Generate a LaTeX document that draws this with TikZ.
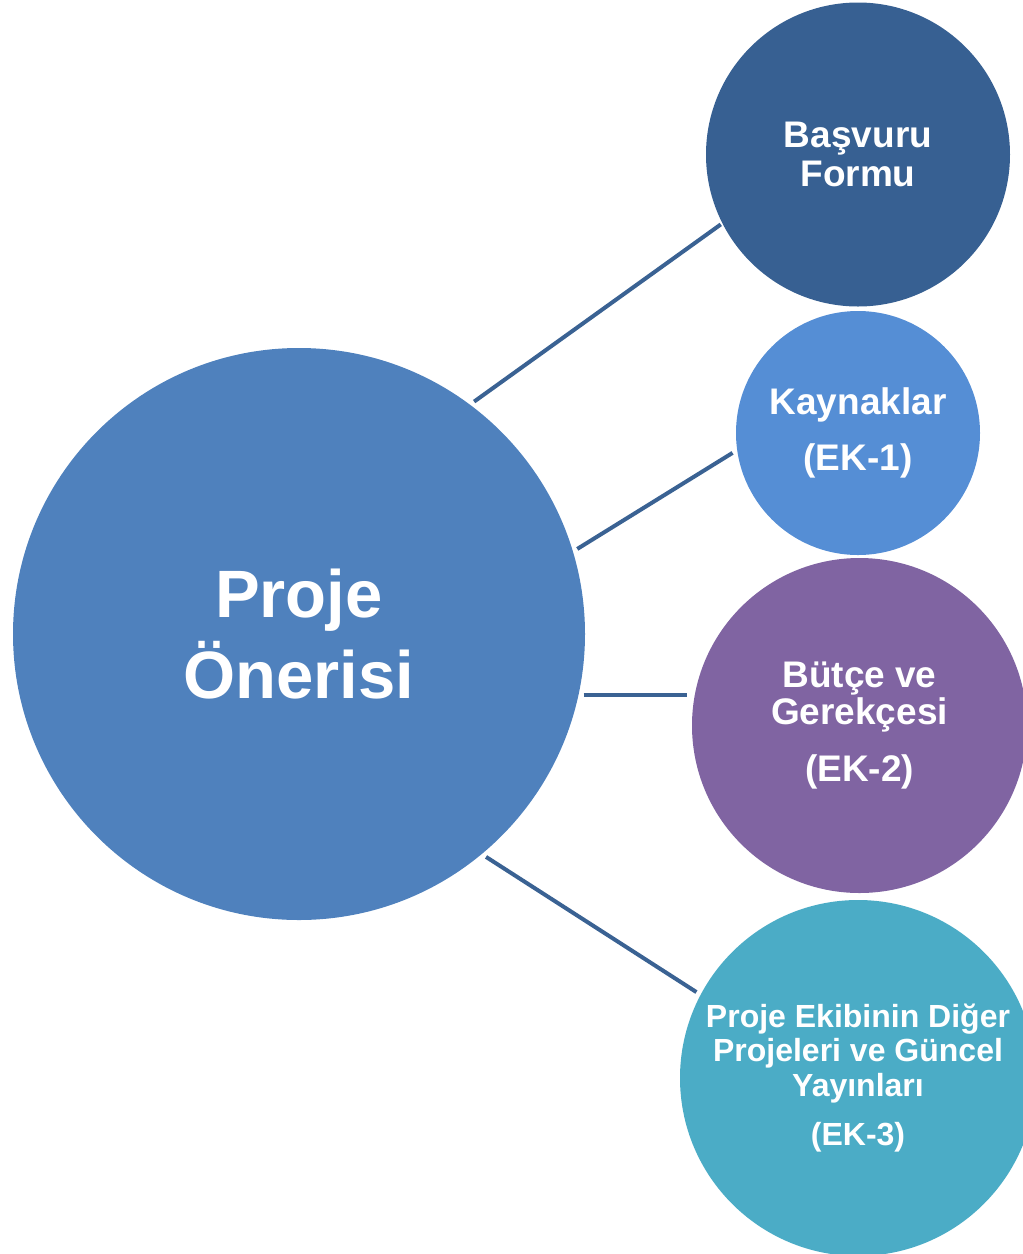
\documentclass[tikz,border=0pt]{standalone}
\usepackage{fontspec}
\setmainfont{Liberation Sans}
\definecolor{cBig}{HTML}{4F81BD}
\definecolor{cOne}{HTML}{376092}
\definecolor{cTwo}{HTML}{558ED5}
\definecolor{cThree}{HTML}{8064A2}
\definecolor{cFour}{HTML}{4BACC6}
\definecolor{cLine}{HTML}{3A6293}
\begin{document}
\begin{tikzpicture}[x=1pt,y=-1pt,
  bubble/.style={circle, inner sep=0pt, outer sep=5pt, draw=none, text=white, align=center},
  conn/.style={draw=cLine, line width=4pt}]
\useasboundingbox (0,0) rectangle (1023,1254);
\clip (0,0) rectangle (1023,1254);
\node[bubble, fill=cBig, minimum size=572pt, font=\bfseries\fontsize{67}{81}\selectfont] (big) at (299,634) {Proje\\Önerisi};
\node[bubble, fill=cOne, minimum size=304pt, outer sep=2pt, font=\bfseries\fontsize{37}{39}\selectfont] (c1) at (858,154.5) {Başvuru\\Formu};
\node[bubble, fill=cTwo, minimum size=244pt, font=\bfseries\fontsize{37}{40}\selectfont] (c2) at (858,433) {Kaynaklar\\[16pt](EK-1)};
\node[bubble, fill=cThree, minimum size=335pt, font=\bfseries\fontsize{37}{37}\selectfont] (c3) at (859.5,725.5) {Bütçe ve\\Gerekçesi\\[20pt](EK-2)};
\node[bubble, fill=cFour, minimum size=356pt, font=\bfseries\fontsize{32}{34.5}\selectfont] (c4) at (858,1078) {Proje Ekibinin Diğer\\Projeleri ve Güncel\\Yayınları\\[14.5pt](EK-3)};
\draw[conn] (big.53.5) -- (c1.207.7);
\draw[conn] (big.17.4) -- (c2.189.8);
\draw[conn] (big.-12) -- (big.-12 -| c3.west);
\draw[conn] (big.-50.7) -- (c4.152.5);
\end{tikzpicture}
\end{document}
